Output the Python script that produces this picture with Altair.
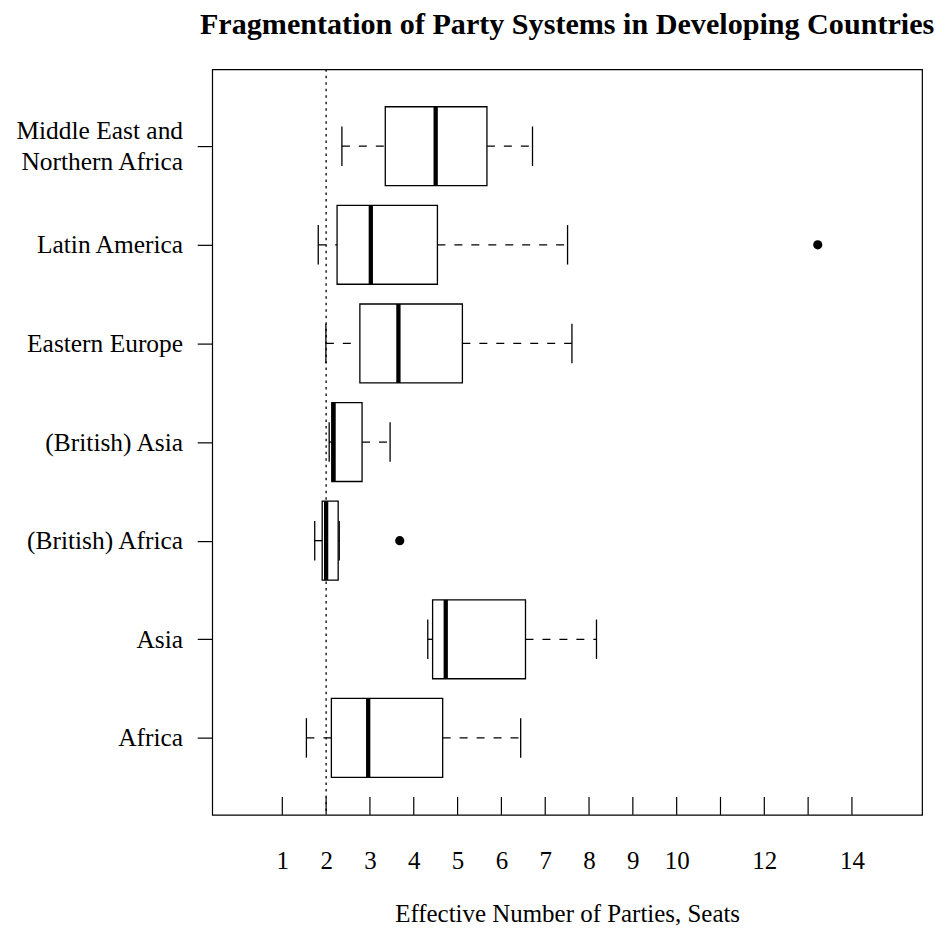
import json
import altair as alt
import pandas as pd

# ---- data ----
regions = ["Africa", "Asia", "(British) Africa", "(British) Asia",
           "Eastern Europe", "Latin America", "Middle East and|Northern Africa"]
positions = [1, 2, 3, 4, 5, 6, 7]
whisker_low = [1.55, 4.32, 1.74, 2.07, 1.995, 1.82, 2.36]
q1 = [2.12, 4.43, 1.91, 2.13, 2.77, 2.25, 3.35]
median = [2.96, 4.73, 2.00, 2.17, 3.65, 3.02, 4.50]
q3 = [4.66, 6.55, 2.275, 2.82, 5.11, 4.54, 5.67]
whisker_high = [6.44, 8.17, 2.30, 3.46, 7.61, 7.51, 6.71]

outlier_pos = [3, 6]
outlier_value = [3.68, 13.22]

reference_value = [2]
x_ticks = list(range(1, 15))
x_labels = [1, 2, 3, 4, 5, 6, 7, 8, 9, 10, 12, 14]

FONT = "Liberation Serif"
W, H = 711.6, 747.4

boxes = pd.DataFrame({
    "pos": positions, "wl": whisker_low, "q1": q1, "med": median,
    "q3": q3, "wh": whisker_high,
})
outs = pd.DataFrame({"pos": outlier_pos, "v": outlier_value})
refs = pd.DataFrame({"v": reference_value})
ticks = pd.DataFrame({"v": x_ticks})

xs = alt.Scale(domain=[-0.6, 15.6], nice=False, zero=False)
ys = alt.Scale(domain=[0.22, 7.78], nice=False, zero=False)

xaxis = alt.Axis(values=x_labels, ticks=False, domain=False, grid=False,
                 labelPadding=54, labelBaseline="alphabetic", labelFont=FONT,
                 labelFontSize=25, labelColor="black", labelOverlap=False,
                 labelFlush=False,
                 title="Effective Number of Parties, Seats", titleFont=FONT,
                 titleFontSize=25, titleFontWeight="normal", titleColor="black",
                 titleY=107, titleBaseline="alphabetic")
label_expr = "split(" + json.dumps(regions) + "[round(datum.value) - 1], '|')"
yaxis = alt.Axis(values=positions, labelExpr=label_expr, ticks=True, tickSize=15,
                 tickColor="black", tickWidth=1.2, domain=False, grid=False,
                 labelPadding=14.7, labelFont=FONT, labelFontSize=25.5,
                 labelLineHeight=31, labelColor="black", labelOverlap=False,
                 labelFlush=False,
                 labelOffset={"expr": "datum.value == 7 ? -15.5 : 0"},
                 title=None)


def X(field):
    return alt.X(field, type="quantitative", scale=xs, axis=xaxis,
                 title="Effective Number of Parties, Seats")


def Y(field):
    return alt.Y(field, type="quantitative", scale=ys, axis=yaxis, title=None)


base = alt.Chart(boxes).transform_calculate(
    lo="datum.pos - 0.4", hi="datum.pos + 0.4",
    clo="datum.pos - 0.2", chi="datum.pos + 0.2")

dash = [8, 9]
whisk_lo = base.mark_rule(color="black", strokeWidth=1.3, strokeDash=dash).encode(
    x=X("wl"), x2="q1", y=Y("pos"))
whisk_hi = base.mark_rule(color="black", strokeWidth=1.3, strokeDash=dash).encode(
    x=X("q3"), x2="wh", y=Y("pos"))
cap_lo = base.mark_rule(color="black", strokeWidth=1.3).encode(
    x=X("wl"), y=Y("clo"), y2="chi")
cap_hi = base.mark_rule(color="black", strokeWidth=1.3).encode(
    x=X("wh"), y=Y("clo"), y2="chi")
box = base.mark_rect(fill="white", stroke="black", strokeWidth=1.3).encode(
    x=X("q1"), x2="q3", y=Y("lo"), y2="hi")
med = base.mark_rule(color="black", strokeWidth=4.3).encode(
    x=X("med"), y=Y("lo"), y2="hi")

pts = alt.Chart(outs).mark_point(filled=True, color="black", size=85, opacity=1).encode(
    x=X("v"), y=Y("pos"))

ref = alt.Chart(refs).mark_rule(color="black", strokeWidth=1.3, strokeDash=[2.5, 4]).encode(
    x=X("v"), y=alt.value(0), y2=alt.value(H))

xt = alt.Chart(ticks).mark_rule(color="black", strokeWidth=1.2).encode(
    x=X("v"), y=alt.value(H - 18), y2=alt.value(H))

chart = alt.layer(ref, whisk_lo, whisk_hi, cap_lo, cap_hi, box, med, pts, xt).properties(
    width=W, height=H,
    title=alt.TitleParams("Fragmentation of Party Systems in Developing Countries",
                          font=FONT, fontSize=30.2, fontWeight="bold", color="black",
                          anchor="middle", frame="group", offset=5,
                          baseline="alphabetic"),
    autosize=alt.AutoSizeParams(type="none"),
    padding={"left": 204.7, "top": 60.3, "right": 20, "bottom": 110},
).configure(background="white").configure_view(stroke="black", strokeWidth=1.2)

chart.save("out.html", embed_options={"renderer": "svg", "actions": False})
